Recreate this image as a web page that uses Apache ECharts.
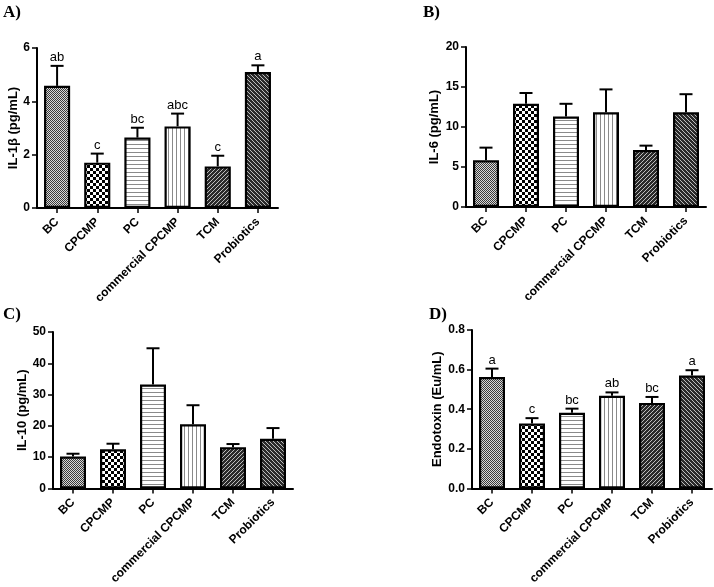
<!DOCTYPE html>
<html>
<head>
<meta charset="utf-8">
<script src="https://cdn.jsdelivr.net/npm/echarts@6/dist/echarts.min.js"></script>
<style>
html,body{margin:0;padding:0;background:#fff;}
#chart{width:714px;height:587px;}
</style>
</head>
<body>
<div id="chart"></div>
<script>
const categories = ['BC', 'CPCMP', 'PC', 'commercial CPCMP', 'TCM', 'Probiotics'];

const il1bMean = [4.58, 1.70, 2.64, 3.06, 1.56, 5.10];
const il1bErr  = [5.33, 2.04, 3.01, 3.54, 1.96, 5.35];
const il1bSig  = ['ab', 'c', 'bc', 'abc', 'c', 'a'];

const il6Mean = [5.83, 12.9, 11.3, 11.83, 7.12, 11.83];
const il6Err  = [7.42, 14.25, 12.9, 14.7, 7.67, 14.1];

const il10Mean = [10.2, 12.5, 33.2, 20.5, 13.2, 15.9];
const il10Err  = [11.1, 14.3, 44.8, 26.6, 14.2, 19.3];

const endoMean = [0.563, 0.328, 0.382, 0.468, 0.432, 0.570];
const endoErr  = [0.605, 0.355, 0.403, 0.485, 0.462, 0.597];
const endoSig  = ['a', 'c', 'bc', 'ab', 'bc', 'a'];

const yTitles = ['IL-1β (pg/mL)', 'IL-6 (pg/mL)', 'IL-10 (pg/mL)', 'Endotoxin (Eu/mL)'];
const yMax = [6, 20, 50, 0.8];
const yInterval = [2, 5, 10, 0.2];
const panelLetters = ['A)', 'B)', 'C)', 'D)'];

function makeTile(w, h, bg, fg, pixels) {
  const c = document.createElement('canvas');
  c.width = w; c.height = h;
  const ctx = c.getContext('2d');
  ctx.fillStyle = bg; ctx.fillRect(0, 0, w, h);
  ctx.fillStyle = fg;
  pixels.forEach(p => ctx.fillRect(p[0], p[1], p[2] || 1, p[3] || 1));
  return { image: c, repeat: 'repeat' };
}
const patterns = [
  makeTile(2, 2, '#d8d8d8', '#3a3a3a', [[0,0],[1,1]]),
  makeTile(6, 6, '#ffffff', '#000000', [[0,0,3,3],[3,3,3,3]]),
  makeTile(4, 4, '#ffffff', '#8a8a8a', [[0,0,4,1]]),
  makeTile(4, 4, '#ffffff', '#8a8a8a', [[0,0,1,4]]),
  makeTile(4, 4, '#2a2a2a', '#bdbdbd', [[3,0],[2,1],[1,2],[0,3]]),
  makeTile(4, 4, '#2a2a2a', '#bdbdbd', [[0,0],[1,1],[2,2],[3,3]])
];

const grids = [
  { left: 37, right: 436, top: 48, bottom: 379 },
  { left: 466, right: 8, top: 47, bottom: 380 },
  { left: 53, right: 421, top: 332, bottom: 95 },
  { left: 472, right: 2, top: 330, bottom: 97 }
];
const nameGaps = [16, 25, 24, 25];

const means = [il1bMean, il6Mean, il10Mean, endoMean];
const errs = [il1bErr, il6Err, il10Err, endoErr];
const sigs = [il1bSig, null, null, endoSig];

const font = 'Liberation Sans, Arial, sans-serif';

const xAxis = grids.map((g, i) => ({
  type: 'category', gridIndex: i, data: categories,
  axisLine: { show: true, lineStyle: { color: '#000', width: 2 } },
  axisTick: { show: true, alignWithLabel: true, length: 5, lineStyle: { color: '#000', width: 1.5 } },
  axisLabel: { rotate: 45, interval: 0, margin: 12, color: '#000', fontWeight: 'bold', fontSize: 12, fontFamily: font }
}));
const yAxis = grids.map((g, i) => ({
  type: 'value', gridIndex: i, min: 0, max: yMax[i], interval: yInterval[i],
  name: yTitles[i], nameLocation: 'middle', nameGap: nameGaps[i],
  nameTextStyle: { color: '#000', fontWeight: 'bold', fontSize: 13, fontFamily: font },
  axisLine: { show: true, lineStyle: { color: '#000', width: 2 } },
  axisTick: { show: true, length: 5, lineStyle: { color: '#000', width: 1.5 } },
  axisLabel: { color: '#000', fontWeight: 'bold', fontSize: 12, margin: 7, fontFamily: font,
    formatter: v => i === 3 ? v.toFixed(1) : String(v) },
  splitLine: { show: false }
}));

const series = [];
means.forEach((m, i) => {
  series.push({
    type: 'bar', xAxisIndex: i, yAxisIndex: i, barWidth: '65%',
    data: m.map((v, k) => ({ value: v, itemStyle: { color: patterns[k] } })),
    itemStyle: { borderColor: '#000', borderWidth: 2.2 },
    emphasis: { disabled: true }, z: 2
  });
  const sig = sigs[i];
  series.push({
    type: 'custom', xAxisIndex: i, yAxisIndex: i, z: 3,
    data: m.map((v, k) => [k, v, errs[i][k]]),
    renderItem: function (params, api) {
      const k = api.value(0);
      const p0 = api.coord([k, api.value(1)]);
      const p1 = api.coord([k, api.value(2)]);
      const cap = 6.5;
      const children = [
        { type: 'line', shape: { x1: p0[0], y1: p0[1], x2: p1[0], y2: p1[1] }, style: { stroke: '#000', lineWidth: 2 } },
        { type: 'line', shape: { x1: p1[0] - cap, y1: p1[1], x2: p1[0] + cap, y2: p1[1] }, style: { stroke: '#000', lineWidth: 2 } }
      ];
      if (sig) {
        children.push({ type: 'text', style: { text: sig[k], x: p1[0], y: p1[1] - 2, textAlign: 'center', textVerticalAlign: 'bottom', fill: '#000', font: '13px ' + font } });
      }
      return { type: 'group', children: children };
    }
  });
});

const letterPos = [[3, 4], [423, 4], [3, 306], [429, 306]];
const graphic = panelLetters.map((t, i) => ({
  type: 'text', left: letterPos[i][0], top: letterPos[i][1],
  style: { text: t, fill: '#000', font: 'bold 17px Liberation Serif, Times New Roman, serif' }
}));

const chart = echarts.init(document.getElementById('chart'), null, { renderer: 'canvas' });
chart.setOption({
  animation: false,
  backgroundColor: '#fff',
  grid: grids,
  xAxis: xAxis,
  yAxis: yAxis,
  series: series,
  graphic: graphic
});
</script>
</body>
</html>
